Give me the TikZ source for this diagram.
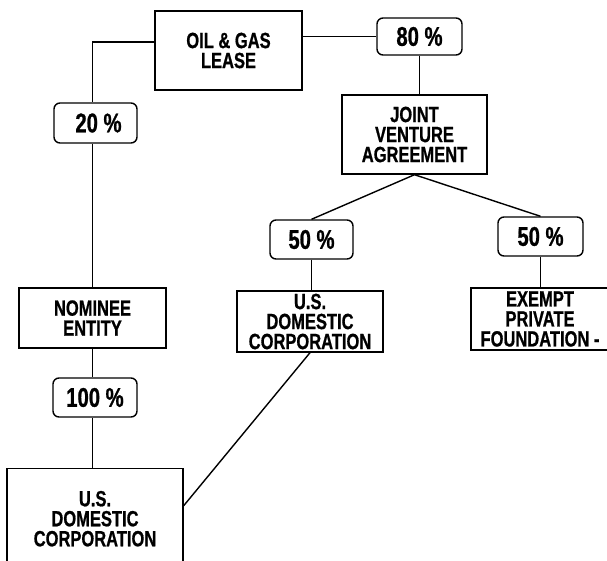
\documentclass[tikz,border=0pt]{standalone}
\usepackage{fontspec}
\newfontfamily\diagfont[FakeStretch=0.75, BoldFeatures={FakeBold=0.8}]{Liberation Sans}
\usetikzlibrary{positioning}

\tikzset{
    box/.style={draw, line width=1.4pt, align=center, inner sep=2pt,
        font=\diagfont\bfseries\fontsize{22}{20}\selectfont},
    pct/.style={draw, line width=1.4pt, rounded corners=6pt, align=center,
        font=\diagfont\bfseries\fontsize{27}{27}\selectfont},
    link/.style={line width=1.4pt}
}

\begin{document}
\begin{tikzpicture}[x=1pt, y=-1pt]
        \useasboundingbox (0,0) rectangle (607,560);

        % Node definitions
        \node (lease) [box, minimum width=147pt, minimum height=79pt] at (228.5,50.5) {OIL \& GAS\\LEASE};
        \node (p80) [pct, minimum width=85pt, minimum height=37pt] at (419.5,36.5) {80 \%};
        \node (jva) [box, minimum width=145pt, minimum height=79pt] at (414.5,134.5) {JOINT\\VENTURE\\AGREEMENT};
        \node (p20) [pct, minimum width=83pt, minimum height=40pt] at (95.5,123) {\hspace{6pt}20 \%};
        \node (nominee) [box, minimum width=147pt, minimum height=60pt] at (92.5,318) {NOMINEE\\ENTITY};
        \node (p100) [pct, minimum width=84pt, minimum height=39pt] at (95,397.5) {100 \%};
        \node (usdcA) [box, anchor=north, minimum width=176pt, minimum height=100pt] at (95,468) {U.S.\\DOMESTIC\\CORPORATION};
        \node (p50a) [pct, minimum width=83pt, minimum height=39pt] at (311.5,239.5) {50 \%};
        \node (usdcB) [box, minimum width=146pt, minimum height=61pt] at (310,321.5) {U.S.\\DOMESTIC\\CORPORATION};
        \node (p50b) [pct, minimum width=85pt, minimum height=39pt] at (540.5,236.5) {50 \%};
        \node (epf) [box, minimum width=138pt, minimum height=62pt] at (540,319) {EXEMPT\\PRIVATE\\FOUNDATION -};

        % Connectors
        \draw[link] ([yshift=8.5pt]lease.west) -| (p20.north -| nominee.north);
        \draw[link] (p20.south -| nominee.north) -- (nominee.north);
        \draw[link] (p80.west -| lease.east) -- (p80.west);
        \draw[link] (p80.south) -- (p80.south |- jva.north);
        \draw[link] (jva.south) -- (p50a.north);
        \draw[link] (jva.south) -- (p50b.north);
        \draw[link] (p50a.south) -- (p50a.south |- usdcB.north);
        \draw[link] (p50b.south) -- (p50b.south |- epf.north);
        \draw[link] (nominee.south) -- (nominee.south |- p100.north);
        \draw[link] (p100.south -| nominee.south) -- (usdcA.north -| nominee.south);
        \draw[link] (usdcB.south) -- ([yshift=13pt]usdcA.east);

    \end{tikzpicture}
\end{document}
